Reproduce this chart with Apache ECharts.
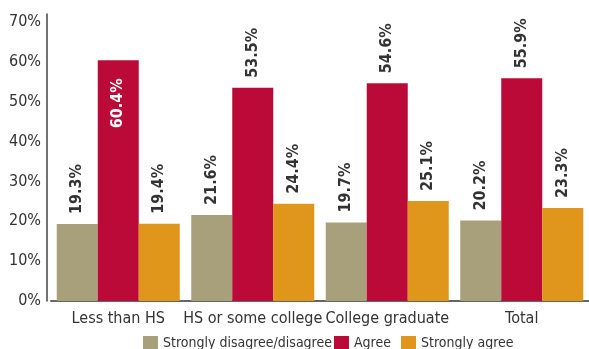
<!DOCTYPE html>
<html><head><meta charset="utf-8">
<script src="https://cdn.jsdelivr.net/npm/echarts@6/dist/echarts.min.js"></script>
<style>html,body{margin:0;padding:0;background:#fff}#c{width:589px;height:349px}</style>
</head><body><div id="c"></div>
<script>
var categories = ['Less than HS', 'HS or some college', 'College graduate', 'Total'];
var disagree = [19.3, 21.6, 19.7, 20.2];
var agree = [60.4, 53.5, 54.6, 55.9];
var stronglyAgree = [19.4, 24.4, 25.1, 23.3];
var seriesNames = ['Strongly disagree/disagree', 'Agree', 'Strongly agree'];
var yTicks = [0, 10, 20, 30, 40, 50, 60, 70];

var FONT = '"DejaVu Sans",sans-serif';
var NW = 'condensed';
var BW = 'bold condensed';
var colors = ['#A89F7B', '#BB0A37', '#E0961A'];
var legendLefts = [143, 334, 401];

function labelTop() {
  return {show: true, position: 'top', rotate: 90, align: 'left', verticalAlign: 'middle',
    distance: 10, color: '#333', fontFamily: FONT, fontWeight: BW, fontSize: 16,
    formatter: function (p) { return p.value.toFixed(1) + '%'; }};
}
function mk(name, arr, idx) {
  return {
    name: name, type: 'bar', barWidth: 41, barGap: '0%',
    itemStyle: {color: colors[idx]},
    label: labelTop(),
    data: arr.map(function (v, i) {
      if (idx === 1 && i === 0) {
        return {value: v, label: {position: 'insideTop', align: 'right', distance: 18, color: '#fff'}};
      }
      return v;
    })
  };
}
var chart = echarts.init(document.getElementById('c'), null, {renderer: 'canvas'});
chart.setOption({
  animation: false,
  color: colors,
  grid: {left: 51, right: -10, top: 14, bottom: 48, containLabel: false},
  legend: seriesNames.map(function (n, i) {
    return {
      left: legendLefts[i], top: 336, itemWidth: 15, itemHeight: 15, padding: 0,
      icon: 'rect', itemGap: 0,
      textStyle: {fontFamily: FONT, fontWeight: NW, fontSize: 14, color: '#333'},
      data: [n]
    };
  }),
  xAxis: {
    type: 'category', data: categories,
    axisLine: {lineStyle: {color: '#666', width: 2}},
    axisTick: {show: false},
    axisLabel: {interval: 0, fontFamily: FONT, fontWeight: NW, fontSize: 16, color: '#333', margin: 10}
  },
  yAxis: {
    type: 'value', min: yTicks[0], max: 72, interval: 10, offset: 4,
    axisLine: {show: true, lineStyle: {color: '#444', width: 1.5}},
    axisTick: {show: false},
    splitLine: {show: false},
    axisLabel: {fontFamily: FONT, fontWeight: NW, fontSize: 16, color: '#333', margin: 6,
      formatter: function (v) { return yTicks.indexOf(v) >= 0 ? v + '%' : ''; }}
  },
  series: [mk(seriesNames[0], disagree, 0), mk(seriesNames[1], agree, 1), mk(seriesNames[2], stronglyAgree, 2)]
});
</script></body></html>
